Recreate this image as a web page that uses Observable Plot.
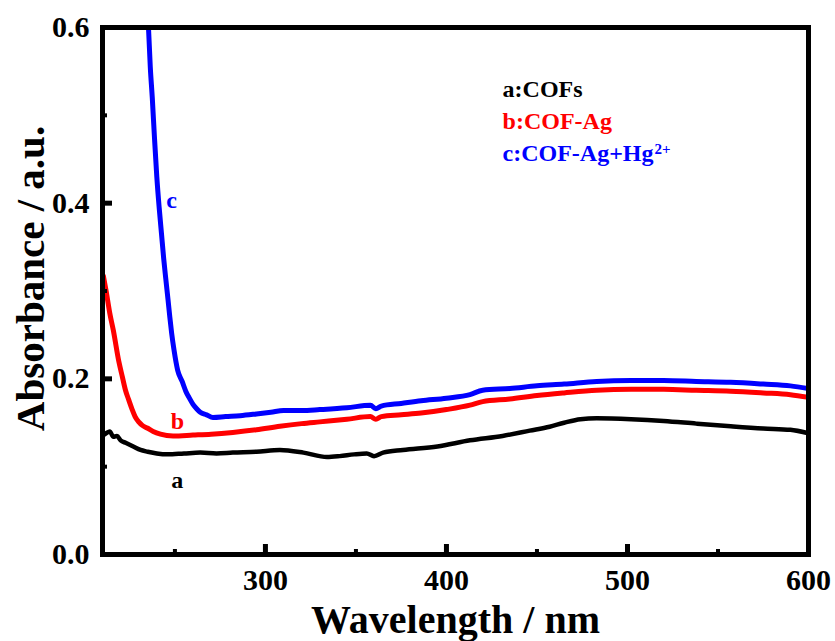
<!DOCTYPE html>
<html>
<head>
<meta charset="utf-8">
<script src="https://cdn.jsdelivr.net/npm/d3@7"></script>
<script src="https://cdn.jsdelivr.net/npm/@observablehq/plot@0.6"></script>
<style>
  html, body { margin: 0; padding: 0; background: #fff; }
</style>
</head>
<body>
<div id="chart"></div>
<script>
// ---- Data ----
// a: COFs (black)
const wavelengthA = [210.5, 212, 214, 216, 218, 220, 223, 227, 231, 235, 240, 246, 255, 264, 273, 282, 295, 308, 321, 334, 341, 349, 356, 360, 365, 376, 395, 413, 431, 446, 457, 465, 474, 483, 502, 520, 538, 557, 575, 590, 600];
const absorbanceA = [0.136, 0.138, 0.140, 0.134, 0.135, 0.130, 0.127, 0.123, 0.119, 0.117, 0.115, 0.114, 0.115, 0.116, 0.115, 0.116, 0.117, 0.119, 0.116, 0.111, 0.112, 0.114, 0.115, 0.112, 0.116, 0.119, 0.123, 0.130, 0.135, 0.141, 0.1455, 0.150, 0.154, 0.155, 0.154, 0.152, 0.149, 0.146, 0.1435, 0.142, 0.138];
// b: COF-Ag (red)
const wavelengthB = [210.5, 212, 214, 216, 219, 221, 222.7, 224.5, 226.4, 228, 230, 232, 234.7, 238, 242, 249, 260, 270, 282, 295, 308, 320, 330, 345, 358, 361, 364, 375, 386, 400, 413, 420, 435, 450, 465, 483, 502, 520, 538, 557, 575, 590, 600];
const absorbanceB = [0.317, 0.300, 0.275, 0.255, 0.220, 0.202, 0.187, 0.176, 0.165, 0.157, 0.151, 0.147, 0.144, 0.140, 0.137, 0.135, 0.136, 0.137, 0.139, 0.142, 0.146, 0.149, 0.151, 0.154, 0.157, 0.154, 0.157, 0.159, 0.161, 0.165, 0.170, 0.174, 0.177, 0.181, 0.184, 0.187, 0.188, 0.188, 0.187, 0.186, 0.184, 0.182, 0.179];
// c: COF-Ag+Hg2+ (blue)
const wavelengthC = [235, 235.4, 236.4, 237.5, 238.7, 240, 241.3, 242.6, 243.8, 245, 246.2, 247.2, 248.2, 249.5, 251.5, 254, 256, 258, 260, 262, 264, 267.5, 271, 278, 286, 295, 303, 310, 320, 330, 345, 358, 361, 364, 375, 386, 400, 413, 420, 435, 450, 465, 483, 502, 520, 538, 557, 575, 590, 600];
const absorbanceC = [0.62, 0.60, 0.555, 0.52, 0.475, 0.43, 0.395, 0.365, 0.337, 0.313, 0.29, 0.27, 0.252, 0.233, 0.21, 0.197, 0.186, 0.178, 0.171, 0.166, 0.162, 0.159, 0.156, 0.157, 0.158, 0.160, 0.162, 0.164, 0.164, 0.165, 0.167, 0.170, 0.166, 0.169, 0.172, 0.175, 0.178, 0.182, 0.187, 0.189, 0.192, 0.194, 0.197, 0.198, 0.198, 0.197, 0.196, 0.194, 0.192, 0.189];

const seriesColors = ["#000000", "#ff0000", "#0000ff"];

// axis ticks
const xMajorTicks = [300, 400, 500, 600];
const xMinorTicks = [250, 350, 450, 550];
const yMajorTicks = [0, 0.2, 0.4, 0.6];
const yMinorTicks = [0.1, 0.3, 0.5];

// curve labels (anchored in data space)
const curveLabels = ["a", "b", "c"];
const curveLabelX = [251.3, 251.4, 248.1];
const curveLabelY = [0.0846, 0.152, 0.403];

// legend text (anchored in data space)
const legendLabels = ["a:COFs", "b:COF-Ag", "c:COF-Ag+Hg"];
const legendX = [431, 431, 431];
const legendY = [0.530, 0.4934, 0.4568];
const legendSuperscript = "2+";

// ---- Chart ----
const W = 835, H = 641, mL = 102, mR = 27, mT = 27, mB = 87;
const innerW = W - mL - mR, innerH = H - mT - mB;
const serif = "'Liberation Serif', 'Times New Roman', Times, serif";

const toRows = (xs, ys) => xs.map((x, i) => ({x, y: ys[i]}));
const rowsA = toRows(wavelengthA, absorbanceA);
const rowsB = toRows(wavelengthB, absorbanceB);
const rowsC = toRows(wavelengthC, absorbanceC);

const lineOpts = {x: "x", y: "y", strokeWidth: 5, curve: "monotone-x", clip: true, strokeLinejoin: "round"};

const chart = Plot.plot({
  width: W,
  height: H,
  marginLeft: mL,
  marginRight: mR,
  marginTop: mT,
  marginBottom: mB,
  style: {background: "white", color: "black", fontFamily: serif},
  x: {domain: [210, 600], axis: null},
  y: {domain: [0, 0.6], axis: null},
  marks: [
    Plot.line(rowsA, {...lineOpts, stroke: seriesColors[0], strokeWidth: 4.5}),
    Plot.line(rowsB, {...lineOpts, stroke: seriesColors[1]}),
    Plot.line(rowsC, {...lineOpts, stroke: seriesColors[2]}),
    // inward ticks
    Plot.tickX(xMajorTicks, {x: d => d, insetTop: innerH - 10, stroke: "black", strokeWidth: 5}),
    Plot.tickX(xMinorTicks, {x: d => d, insetTop: innerH - 5, stroke: "black", strokeWidth: 4}),
    Plot.tickY(yMajorTicks, {y: d => d, insetRight: innerW - 10, stroke: "black", strokeWidth: 5}),
    Plot.tickY(yMinorTicks, {y: d => d, insetRight: innerW - 5, stroke: "black", strokeWidth: 4}),
    Plot.frame({stroke: "black", strokeWidth: 5}),
    // tick labels
    Plot.axisX(xMajorTicks, {tickSize: 0, tickPadding: 14, label: null, fontSize: 30, fontWeight: "bold", fontFamily: serif, fill: "black"}),
    Plot.axisY(yMajorTicks, {tickSize: 0, tickPadding: 13, label: null, tickFormat: d3.format(".1f"), fontSize: 30, fontWeight: "bold", fontFamily: serif, fill: "black"}),
    // axis titles
    Plot.text(["Wavelength / nm"], {text: d => d, frameAnchor: "bottom", textAnchor: "middle", dy: 78, lineAnchor: "bottom", fontSize: 40, fontWeight: "bold", fontFamily: serif, fill: "black"}),
    Plot.text(["Absorbance / a.u."], {text: d => d, frameAnchor: "left", textAnchor: "middle", dx: -59, dy: -12.5, rotate: -90, lineAnchor: "bottom", fontSize: 41, fontWeight: "bold", fontFamily: serif, fill: "black"}),
    // curve labels
    Plot.text(curveLabels, {text: d => d, x: (d, i) => curveLabelX[i], y: (d, i) => curveLabelY[i], fill: (d, i) => seriesColors[i], fontSize: 24, fontWeight: "bold", fontFamily: serif}),
    // legend
    Plot.text(legendLabels, {text: d => d, x: (d, i) => legendX[i], y: (d, i) => legendY[i], fill: (d, i) => seriesColors[i], textAnchor: "start", fontSize: 24, fontWeight: "bold", fontFamily: serif}),
    Plot.text([legendSuperscript], {text: d => d, x: legendX[2], y: legendY[2], dx: 152, dy: -4, fill: seriesColors[2], textAnchor: "start", fontSize: 15, fontWeight: "bold", fontFamily: serif})
  ]
});

document.getElementById("chart").append(chart);
</script>
</body>
</html>
